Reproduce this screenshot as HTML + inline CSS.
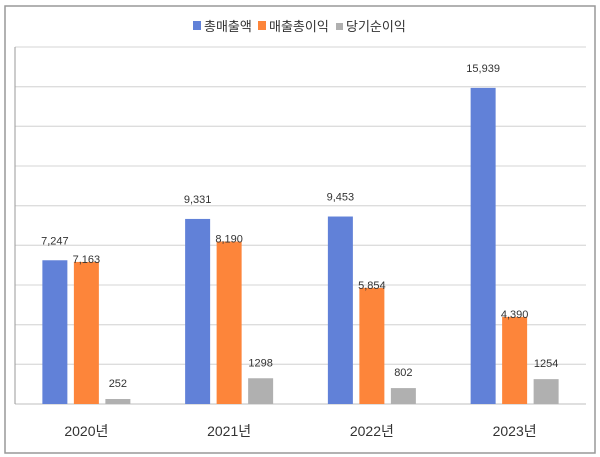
<!DOCTYPE html>
<html><head><meta charset="utf-8"><style>
body{margin:0;background:#fff;}
svg{display:block;font-family:"Liberation Sans","Noto Sans CJK KR",sans-serif;}
</style></head><body>
<svg id="chart" width="600" height="457" viewBox="0 0 600 457">
<rect x="5" y="6" width="590" height="447" fill="#fff" stroke="#999" stroke-width="1.5"/>
<g id="grid"></g>
<line x1="15" y1="47" x2="15" y2="404" stroke="#999" stroke-width="1"/>
<g id="bars"></g>
<g id="legend" font-size="13" fill="#333">
<rect x="193" y="21" width="8" height="9" fill="#6181d8"/>
<text x="204" y="31">총매출액</text>
<rect x="258" y="21" width="8" height="9" fill="#fd853a"/>
<text x="269" y="31">매출총이익</text>
<rect x="336" y="23" width="7" height="7" fill="#b0b0b0"/>
<text x="346" y="31">당기순이익</text>
</g>
</svg>
<script>
const categories=["2020년","2021년","2022년","2023년"];
const sales=[7247,9331,9453,15939];
const gross=[7163,8190,5854,4390];
const net=[252,1298,802,1254];
const salesLabels=["7,247","9,331","9,453","15,939"];
const grossLabels=["7,163","8,190","5,854","4,390"];
const netLabels=["252","1298","802","1254"];
const yMax=18000, yStep=2000;
const NS="http://www.w3.org/2000/svg";
const plotL=15,plotR=586,plotT=47,plotB=404;
const y=v=>plotB-(v/yMax)*(plotB-plotT);
const groupW=(plotR-plotL)/categories.length;
const xc=i=>plotL+groupW*(i+0.5);
function mk(tag,attrs,parent){const e=document.createElementNS(NS,tag);for(const k in attrs)e.setAttribute(k,attrs[k]);parent.appendChild(e);return e;}
const grid=document.getElementById('grid');
for(let v=yStep;v<=yMax;v+=yStep){
 const l=mk('line',{x1:plotL,x2:plotR,y1:y(v),y2:y(v),stroke:'#ddd','stroke-width':1.3},grid);
 
 
}
const base=mk('line',{x1:plotL,x2:plotR,y1:plotB,y2:plotB,stroke:'#ccc','stroke-width':1.3},grid);


const g=document.getElementById('bars');
const series=[{d:sales,l:salesLabels,c:'#6181d8',off:-16,n:'sales'},{d:gross,l:grossLabels,c:'#fd853a',off:1,n:'gross'},{d:net,l:netLabels,c:'#b0b0b0',off:-12,n:'net'}];
const bw=25,step=31.5;
categories.forEach((cat,i)=>{
 series.forEach((s,j)=>{
  const x=xc(i)+(j-1)*step-bw/2;
  const r=mk('rect',{x:x,y:y(s.d[i]),width:bw,height:plotB-y(s.d[i]),fill:s.c},g);
  
  
  const t=mk('text',{x:x+bw/2,y:y(s.d[i])+s.off,'text-anchor':'middle','font-size':11,fill:'#333'},g);
  t.textContent=s.l[i];
  
  
 });
 const ct=mk('text',{x:xc(i),y:436,'text-anchor':'middle','font-size':14,fill:'#333'},g);
 ct.textContent=cat;
 
 
});
</script>
</body></html>
